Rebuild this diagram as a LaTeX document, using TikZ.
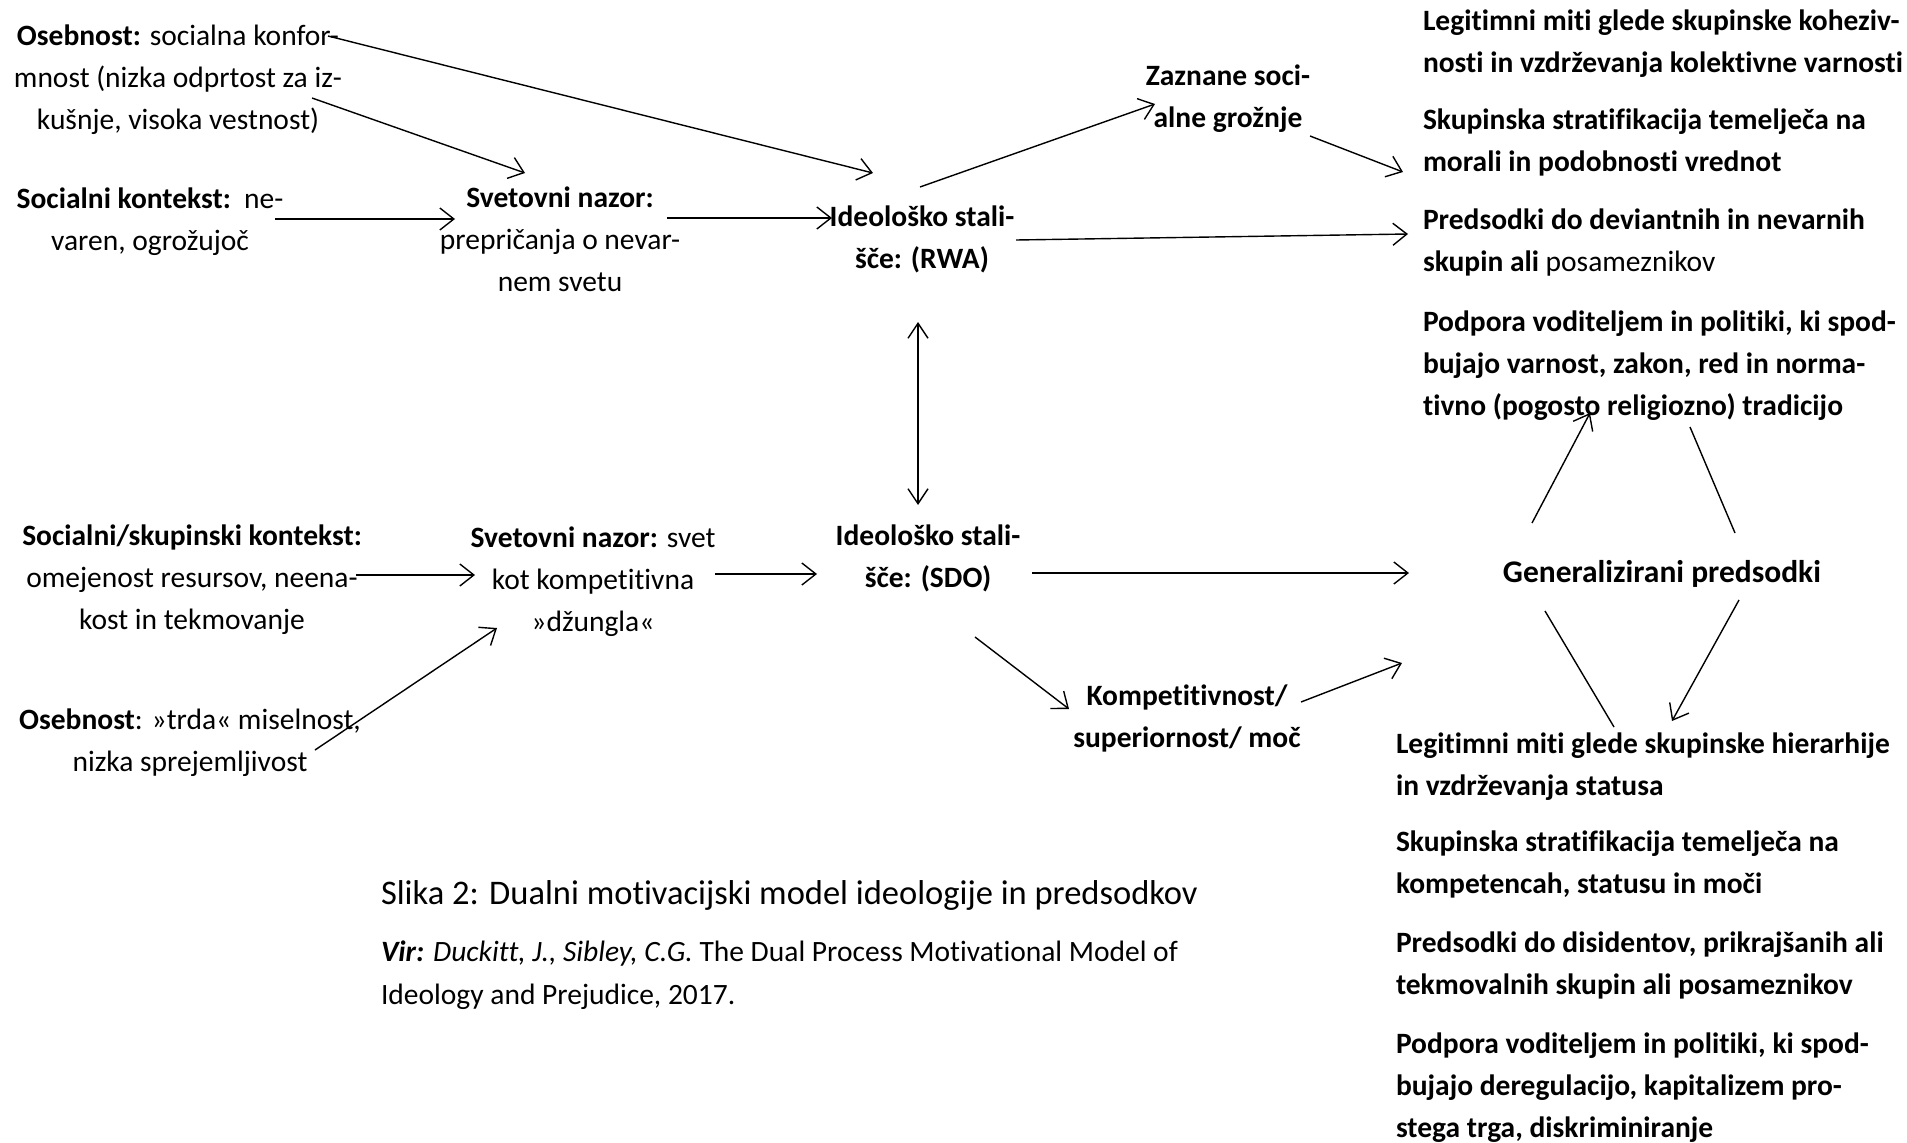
\documentclass[tikz,border=0pt]{standalone}
\usepackage{fontspec}
\setmainfont{Carlito}[Ligatures={NoCommon,NoRare,NoContextual},Contextuals={NoAlternate}]
\usetikzlibrary{arrows.meta}
\begin{document}
\begin{tikzpicture}[x=1pt,y=-1pt,
  txt/.style={inner sep=0pt, outer sep=0pt, align=center,
    font=\fontsize{29.5}{42}\selectfont},
  ltxt/.style={txt, align=left, anchor=west},
  arr/.style={line width=1.4pt, -{Straight Barb[length=14pt,width=22pt]}},
  darr/.style={line width=1.4pt, {Straight Barb[length=15pt,width=20pt]}-{Straight Barb[length=15pt,width=20pt]}},
  ln/.style={line width=1.4pt}]
\fill[white] (0,0) rectangle (1907,1143);
\useasboundingbox (0,0) rectangle (1907,1143);

% ---- upper (RWA) path
\node[txt] (oseb1) at (178,79) {\strut\textbf{Osebnost:} socialna konfor-\\mnost (nizka odprtost za iz-\\kušnje, visoka vestnost)\strut};
\node[txt] (soc1) at (150,221) {\strut\textbf{Socialni kontekst:}\ \ ne-\\varen, ogrožujoč\strut};
\node[txt] (svet1) at (560,241) {\strut\textbf{Svetovni nazor:}\\prepričanja o nevar-\\nem svetu\strut};
\node[txt,font=\bfseries\fontsize{29.5}{42}\selectfont] (rwa) at (922,239) {\strut Ideološko stali-\\šče: (RWA)\strut};
\node[txt,font=\bfseries\fontsize{29.5}{42}\selectfont] (zaz) at (1228,98) {\strut Zaznane soci-\\alne grožnje\strut};

\node[ltxt] (rt1) at (1423,43) {\strut\textbf{Legitimni miti glede skupinske koheziv-}\\\textbf{nosti in vzdrževanja kolektivne varnosti}\strut};
\node[ltxt] (rt2) at (1423,142.5) {\strut\textbf{Skupinska stratifikacija temelječa na}\\\textbf{morali in podobnosti vrednot}\strut};
\node[ltxt] (rt3) at (1423,242) {\strut\textbf{Predsodki do deviantnih in nevarnih}\\\textbf{skupin ali} posameznikov\strut};
\node[ltxt] (rt4) at (1423,364.7) {\strut\textbf{Podpora voditeljem in politiki, ki spod-}\\\textbf{bujajo varnost, zakon, red in norma-}\\\textbf{tivno (pogosto religiozno) tradicijo}\strut};

% ---- lower (SDO) path
\node[txt] (soc2) at (192,579.5) {\strut\textbf{Socialni/skupinski kontekst:}\\omejenost resursov, neena-\\kost in tekmovanje\strut};
\node[txt] (oseb2) at (190,742) {\strut\textbf{Osebnost}: »trda« miselnost,\\nizka sprejemljivost\strut};
\node[txt] (svet2) at (593,581) {\strut\textbf{Svetovni nazor:} svet\\kot kompetitivna\\»džungla«\strut};
\node[txt,font=\bfseries\fontsize{29.5}{42}\selectfont] (sdo) at (928,558.5) {\strut Ideološko stali-\\šče: (SDO)\strut};
\node[txt,font=\bfseries\fontsize{29.5}{42}\selectfont] (komp) at (1187,718) {\strut Kompetitivnost/\\superiornost/ moč\strut};
\node[txt,font=\bfseries\fontsize{31.5}{42}\selectfont] (gen) at (1662,574) {Generalizirani predsodki};

\node[ltxt] (rb1) at (1396,766.5) {\strut\textbf{Legitimni miti glede skupinske hierarhije}\\\textbf{in vzdrževanja statusa}\strut};
\node[ltxt] (rb2) at (1396,864.5) {\strut\textbf{Skupinska stratifikacija temelječa na}\\\textbf{kompetencah, statusu in moči}\strut};
\node[ltxt] (rb3) at (1396,965.5) {\strut\textbf{Predsodki do disidentov, prikrajšanih ali}\\\textbf{tekmovalnih skupin ali posameznikov}\strut};
\node[ltxt] (rb4) at (1396,1086.7) {\strut\textbf{Podpora voditeljem in politiki, ki spod-}\\\textbf{bujajo deregulacijo, kapitalizem pro-}\\\textbf{stega trga, diskriminiranje}\strut};

% ---- caption
\node[ltxt,font=\fontsize{34.5}{42}\selectfont] (cap) at (381,895) {Slika 2: Dualni motivacijski model ideologije in predsodkov};
\node[ltxt,font=\fontsize{29.5}{43}\selectfont] (vir) at (381,974) {\strut\textbf{\textit{Vir:}} \textit{Duckitt, J., Sibley, C.G.} The Dual Process Motivational Model of\\Ideology and Prejudice, 2017.\strut};

% ---- connectors
\draw[arr] ([shift={(150,-43)}]oseb1.center) -- ([shift={(-49,-66)}]rwa.center);
\draw[arr] ([shift={(134,19)}]oseb1.center) -- ([shift={(-35,-68)}]svet1.center);
\draw[arr] ([shift={(125,-2)}]soc1.center) -- ([shift={(-105,-22)}]svet1.center);
\draw[arr] ([shift={(107,-23)}]svet1.center) -- ([shift={(-90,-21)}]rwa.center);
\draw[arr] ([shift={(-2,-52)}]rwa.center) -- ([shift={(-73,6)}]zaz.center);
\draw[arr] ([shift={(82,38)}]zaz.center) -- ([shift={(-20,29.5)}]rt2.west);
\draw[arr] ([shift={(94,1)}]rwa.center) -- ([shift={(-15,-8)}]rt3.west);
\draw[darr] ([shift={(-4,83)}]rwa.center) -- ([shift={(-10,-53.5)}]sdo.center);

\draw[arr] ([shift={(164,-4.5)}]soc2.center) -- ([shift={(-118,-6)}]svet2.center);
\draw[arr] ([shift={(125,8)}]oseb2.center) -- ([shift={(-96,47)}]svet2.center);
\draw[arr] ([shift={(122,-7)}]svet2.center) -- ([shift={(-111,15.5)}]sdo.center);
\draw[arr] ([shift={(104,14.5)}]sdo.center) -- ([shift={(-253,-1)}]gen.center);
\draw[arr] ([shift={(47,78.5)}]sdo.center) -- ([shift={(-118,-9)}]komp.center);
\draw[arr] ([shift={(114,-16)}]komp.center) -- ([shift={(6,-103.5)}]rb1.west);

\draw[arr] ([shift={(-130,-51)}]gen.center) -- ([shift={(167,48.3)}]rt4.west);
\draw[ln] ([shift={(267,62.3)}]rt4.west) -- ([shift={(73,-41)}]gen.center);
\draw[ln] ([shift={(-117,37)}]gen.center) -- ([shift={(218,-39.5)}]rb1.west);
\draw[arr] ([shift={(77,26)}]gen.center) -- ([shift={(276,-45.5)}]rb1.west);
\end{tikzpicture}
\end{document}
